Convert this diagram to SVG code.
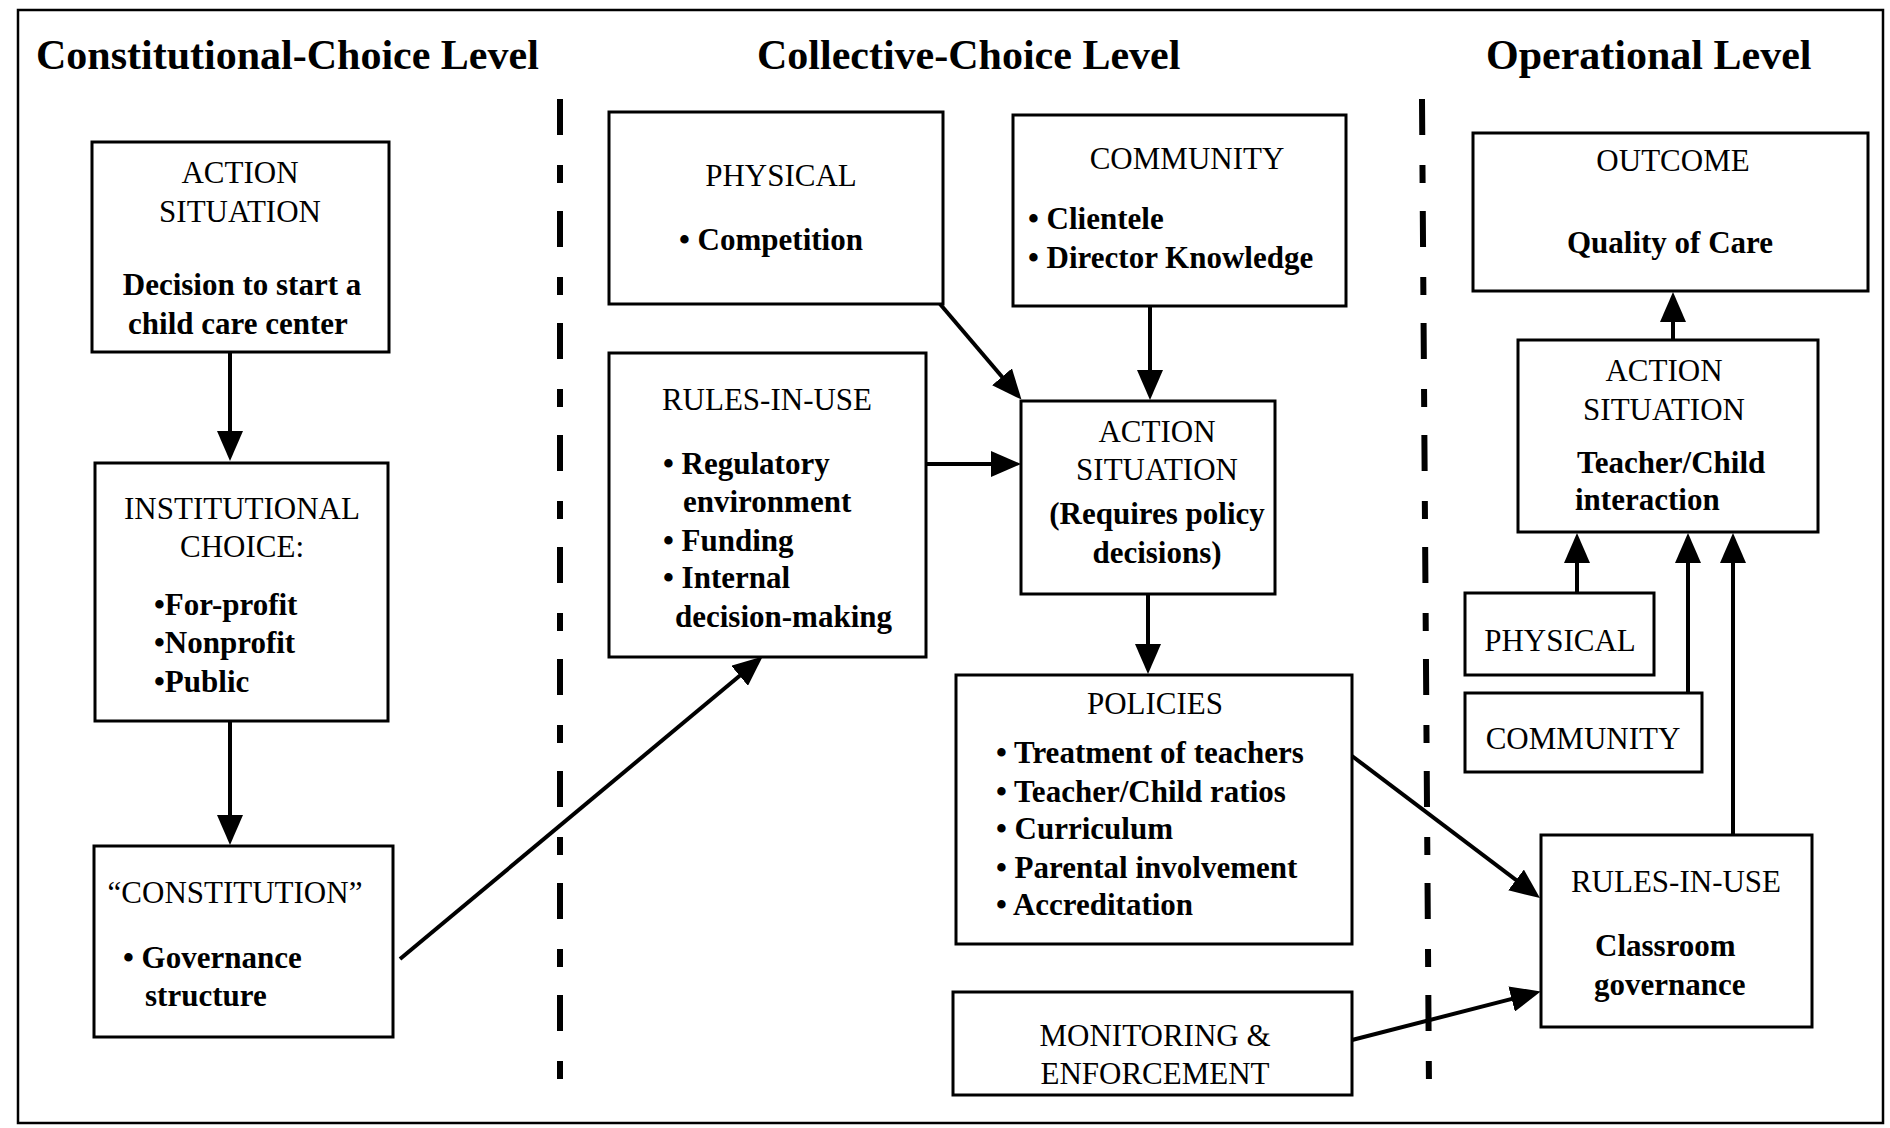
<svg xmlns="http://www.w3.org/2000/svg" width="1890" height="1128" viewBox="0 0 1890 1128">
<style>
.box{fill:#fff;stroke:#000;stroke-width:3}
text{font-family:"Liberation Serif","Times New Roman",serif;font-size:31px;fill:#000}
.b{font-weight:bold}
.c{text-anchor:middle}
.title{font-size:42px;font-weight:bold}
.conn line{stroke:#000;stroke-width:4;marker-end:url(#ah)}
.div{stroke:#000;stroke-width:6;stroke-dasharray:36 30 18 28;fill:none}
</style>
<defs>
<marker id="ah" markerUnits="userSpaceOnUse" markerWidth="30" markerHeight="26" viewBox="0 0 30 26" refX="20" refY="13" orient="auto">
<path d="M0,0 L30,13 L0,26 z" fill="#000"/>
</marker>
</defs>
<rect x="0" y="0" width="1890" height="1128" fill="#fff"/>
<rect x="18" y="10" width="1865" height="1113" fill="none" stroke="#000" stroke-width="2.5"/>

<g id="titles">
<text class="title" x="36" y="69">Constitutional-Choice Level</text>
<text class="title" x="757" y="69">Collective-Choice Level</text>
<text class="title" x="1486" y="69">Operational Level</text>
</g>

<g id="dividers">
<line class="div" x1="560" y1="99" x2="560" y2="1086"/>
<line class="div" x1="1422" y1="99" x2="1429" y2="1090"/>
</g>

<g id="cc-action">
<rect class="box" x="92" y="142" width="297" height="210"/>
<text class="c" x="240" y="183">ACTION</text>
<text class="c" x="240" y="222">SITUATION</text>
<text class="b c" x="242" y="295">Decision to start a</text>
<text class="b c" x="238" y="334">child care center</text>
</g>

<g id="cc-institutional">
<rect class="box" x="95" y="463" width="293" height="258"/>
<text class="c" x="242" y="519">INSTITUTIONAL</text>
<text class="c" x="242" y="557">CHOICE:</text>
<text class="b" x="154" y="615">•For-profit</text>
<text class="b" x="154" y="653">•Nonprofit</text>
<text class="b" x="154" y="692">•Public</text>
</g>

<g id="cc-constitution">
<rect class="box" x="94" y="846" width="299" height="191"/>
<text class="c" x="235" y="903">“CONSTITUTION”</text>
<text class="b" x="123" y="968">• Governance</text>
<text class="b" x="145" y="1006">structure</text>
</g>

<g id="coll-physical">
<rect class="box" x="609" y="112" width="334" height="192"/>
<text class="c" x="781" y="186">PHYSICAL</text>
<text class="b" x="679" y="250">• Competition</text>
</g>

<g id="coll-community">
<rect class="box" x="1013" y="115" width="333" height="191"/>
<text class="c" x="1187" y="169">COMMUNITY</text>
<text class="b" x="1028" y="229">• Clientele</text>
<text class="b" x="1028" y="268">• Director Knowledge</text>
</g>

<g id="coll-rules">
<rect class="box" x="609" y="353" width="317" height="304"/>
<text class="c" x="767" y="410">RULES-IN-USE</text>
<text class="b" x="663" y="474">• Regulatory</text>
<text class="b" x="683" y="512">environment</text>
<text class="b" x="663" y="551">• Funding</text>
<text class="b" x="663" y="588">• Internal</text>
<text class="b" x="675" y="627">decision-making</text>
</g>

<g id="coll-action">
<rect class="box" x="1021" y="401" width="254" height="193"/>
<text class="c" x="1157" y="442">ACTION</text>
<text class="c" x="1157" y="480">SITUATION</text>
<text class="b c" x="1157" y="524">(Requires policy</text>
<text class="b c" x="1157" y="563">decisions)</text>
</g>

<g id="coll-policies">
<rect class="box" x="956" y="675" width="396" height="269"/>
<text class="c" x="1155" y="714">POLICIES</text>
<text class="b" x="996" y="763">• Treatment of teachers</text>
<text class="b" x="996" y="802">• Teacher/Child ratios</text>
<text class="b" x="996" y="839">• Curriculum</text>
<text class="b" x="996" y="878">• Parental involvement</text>
<text class="b" x="996" y="915">• Accreditation</text>
</g>

<g id="coll-monitoring">
<rect class="box" x="953" y="992" width="399" height="103"/>
<text class="c" x="1155" y="1046">MONITORING &amp;</text>
<text class="c" x="1155" y="1084">ENFORCEMENT</text>
</g>

<g id="op-outcome">
<rect class="box" x="1473" y="133" width="395" height="158"/>
<text class="c" x="1673" y="171">OUTCOME</text>
<text class="b c" x="1670" y="253">Quality of Care</text>
</g>

<g id="op-action">
<rect class="box" x="1518" y="340" width="300" height="192"/>
<text class="c" x="1664" y="381">ACTION</text>
<text class="c" x="1664" y="420">SITUATION</text>
<text class="b" x="1577" y="473">Teacher/Child</text>
<text class="b" x="1575" y="510">interaction</text>
</g>

<g id="op-physical">
<rect class="box" x="1465" y="593" width="189" height="82"/>
<text class="c" x="1560" y="651">PHYSICAL</text>
</g>

<g id="op-community">
<rect class="box" x="1465" y="693" width="237" height="79"/>
<text class="c" x="1583" y="749">COMMUNITY</text>
</g>

<g id="op-rules">
<rect class="box" x="1541" y="835" width="271" height="192"/>
<text class="c" x="1676" y="892">RULES-IN-USE</text>
<text class="b" x="1595" y="956">Classroom</text>
<text class="b" x="1594" y="995">governance</text>
</g>

<g id="connectors" class="conn">
<line x1="230" y1="352" x2="230" y2="451"/>
<line x1="230" y1="721" x2="230" y2="835"/>
<line x1="400" y1="959" x2="755" y2="663"/>
<line x1="940" y1="304" x2="1015" y2="392"/>
<line x1="1150" y1="306" x2="1150" y2="390"/>
<line x1="926" y1="464" x2="1011" y2="464"/>
<line x1="1148" y1="594" x2="1148" y2="664"/>
<line x1="1352" y1="756" x2="1532" y2="892"/>
<line x1="1352" y1="1040" x2="1531" y2="994"/>
<line x1="1673" y1="340" x2="1673" y2="302"/>
<line x1="1577" y1="593" x2="1577" y2="543"/>
<line x1="1688" y1="693" x2="1688" y2="543"/>
<line x1="1733" y1="835" x2="1733" y2="543"/>
</g>
</svg>
